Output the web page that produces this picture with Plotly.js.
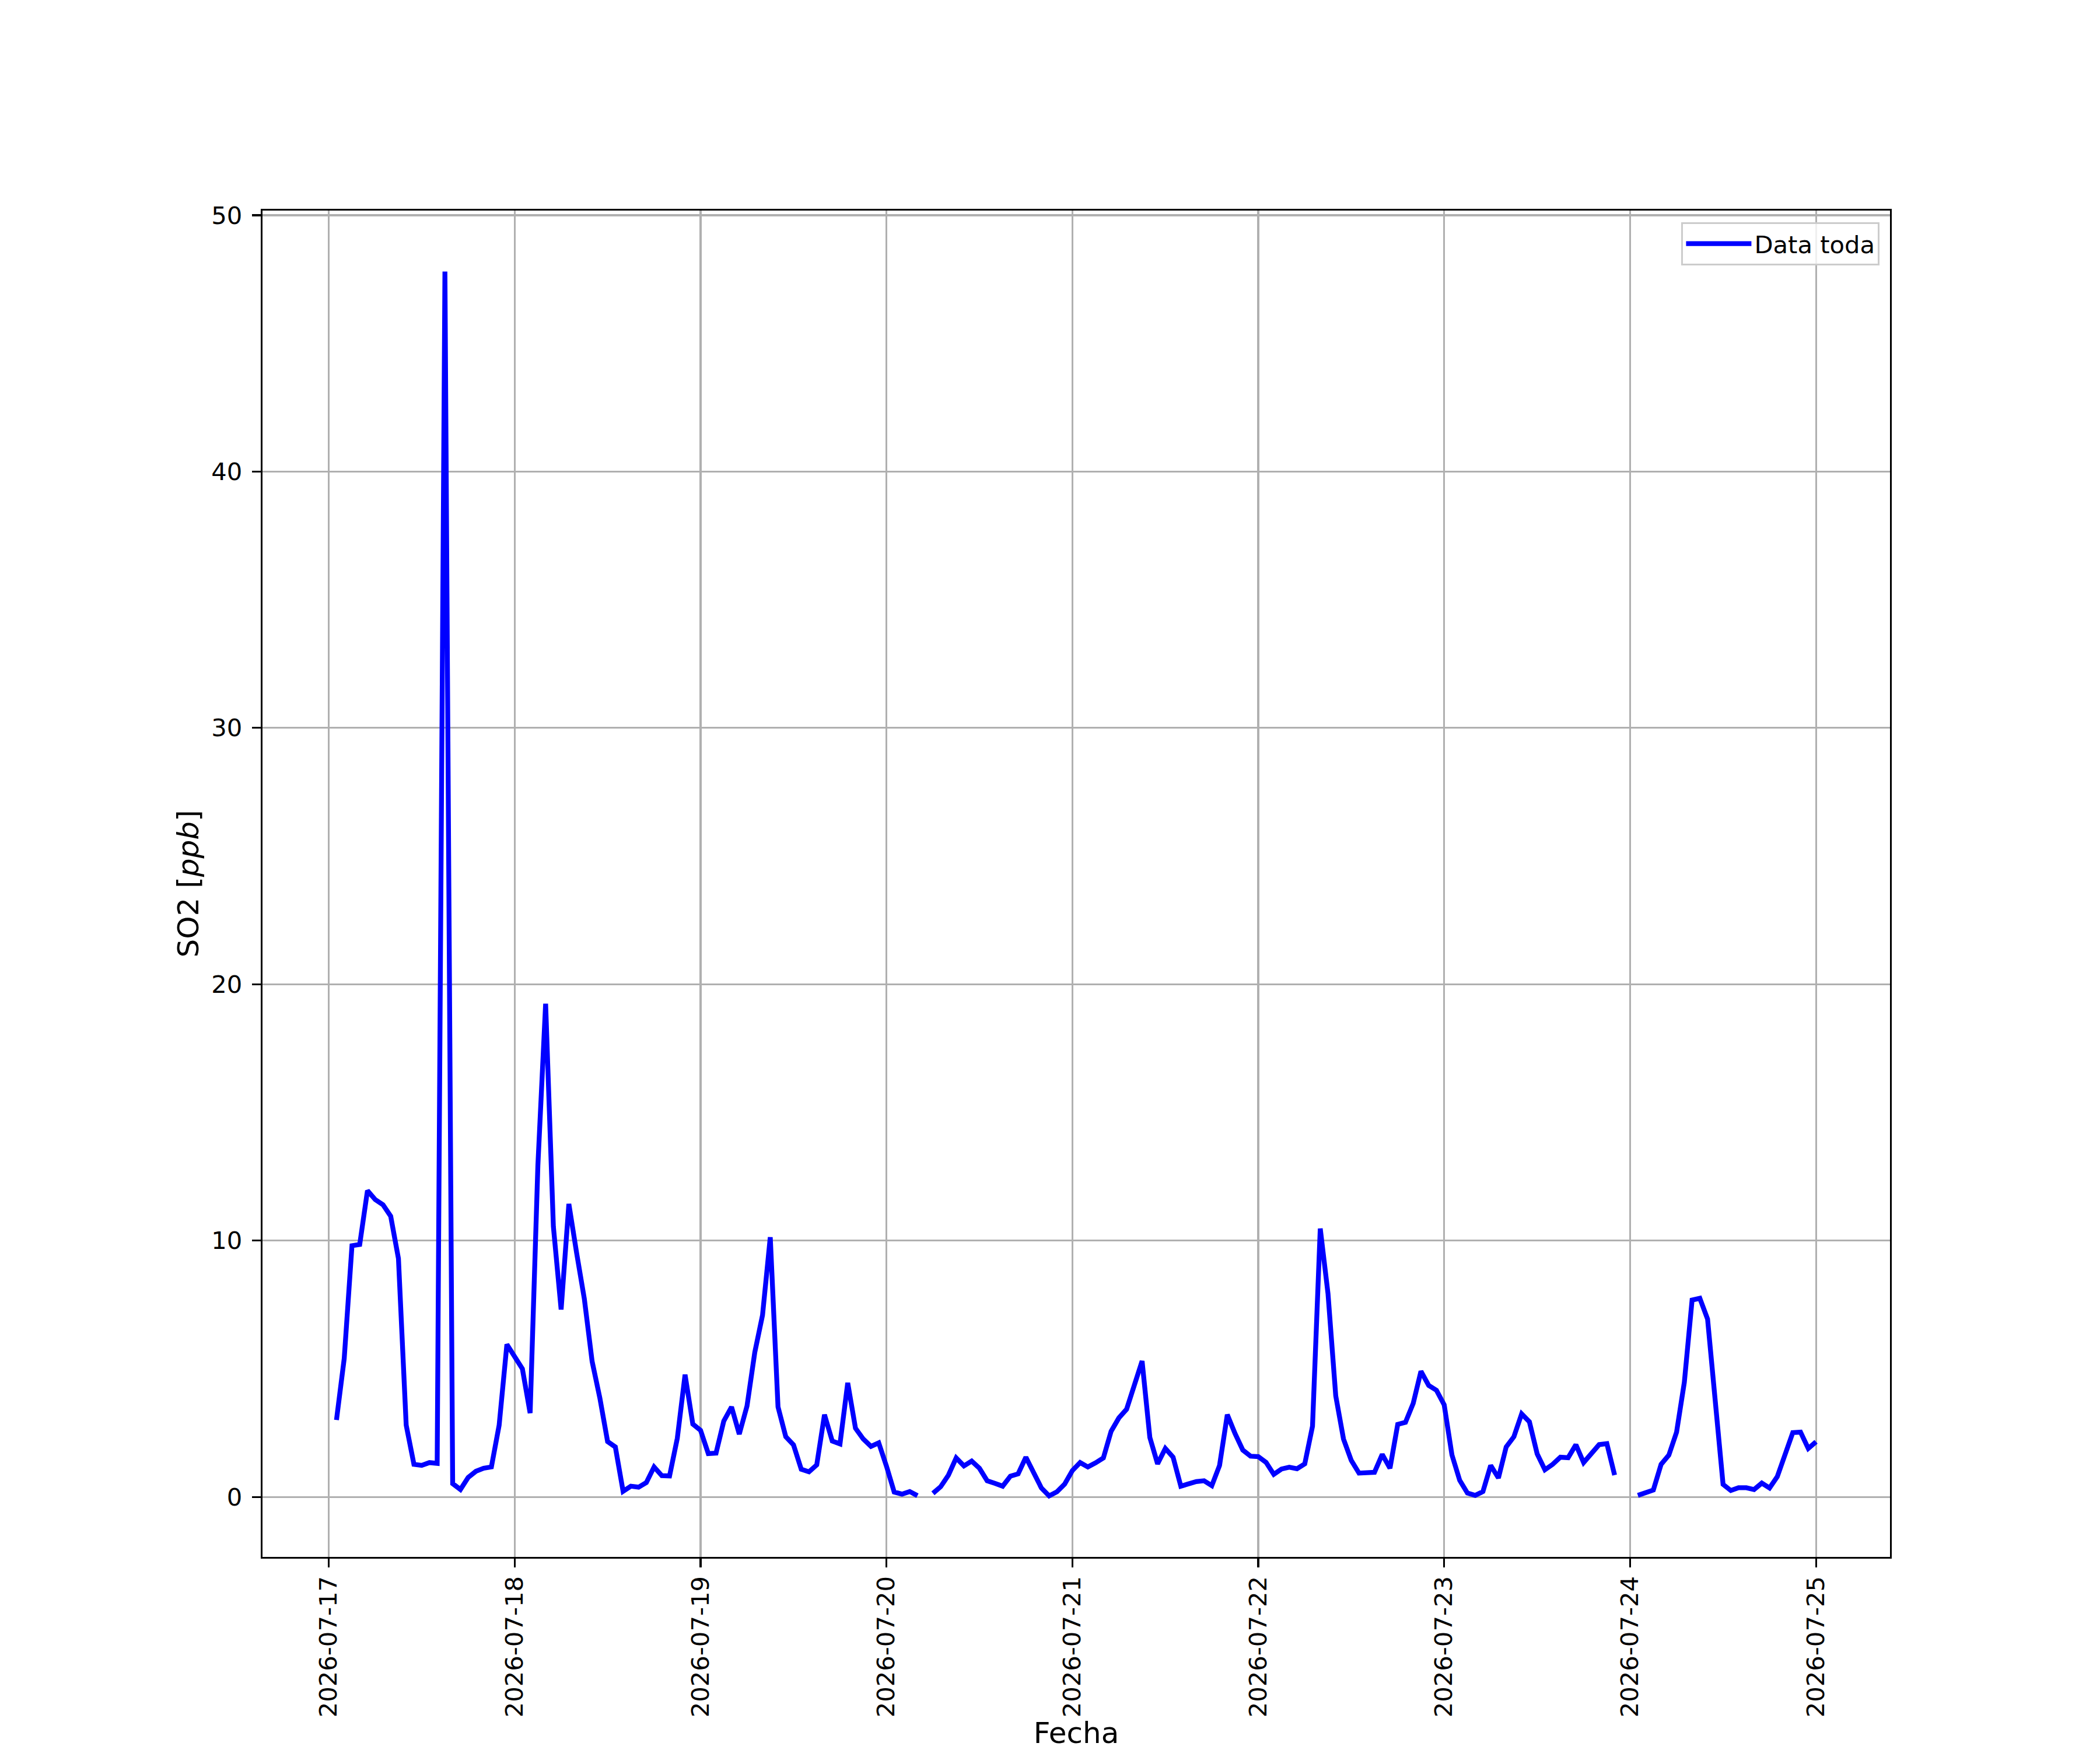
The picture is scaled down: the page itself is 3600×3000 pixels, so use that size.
<!DOCTYPE html>
<html>
<head>
<meta charset="utf-8">
<script src="https://cdn.plot.ly/plotly-3.0.1.min.js"></script>
<style>html,body{margin:0;padding:0;background:#fff;}</style>
</head>
<body>
<div id="chart" style="width:3600px;height:3000px;"></div>
<script>
// Hourly SO2 [ppb]; each day array starts at its first hour (see firstHour)
const days = ['2026-07-17','2026-07-18','2026-07-19','2026-07-20','2026-07-21','2026-07-22','2026-07-23','2026-07-24','2026-07-25'];
const firstHour = [1, 0, 0, 0, 0, 0, 0, 0, 0];

const so2_0717 = [3.0, 5.4, 9.8, 9.85, 11.95, 11.6, 11.4, 10.95, 9.3, 2.8, 1.27, 1.23, 1.34, 1.31, 47.8, 0.52, 0.29, 0.76, 1.0, 1.12, 1.17, 2.8, 5.95];
const so2_0718 = [5.5, 5.0, 3.27, 12.93, 19.24, 10.55, 7.31, 11.43, 9.52, 7.72, 5.29, 3.86, 2.16, 1.95, 0.22, 0.42, 0.38, 0.56, 1.17, 0.83, 0.82, 2.29, 4.77, 2.84];
const so2_0719 = [2.6, 1.69, 1.71, 2.96, 3.51, 2.45, 3.55, 5.64, 7.09, 10.13, 3.51, 2.35, 2.03, 1.08, 0.98, 1.25, 3.21, 2.18, 2.07, 4.45, 2.68, 2.26, 1.97, 2.11];
const so2_0720 = [1.2, 0.19, 0.11, 0.21, 0.05, null, 0.14, 0.40, 0.85, 1.52, 1.21, 1.40, 1.12, 0.63, 0.53, 0.42, 0.81, 0.90, 1.55, 0.95, 0.35, 0.04, 0.20, 0.50];
const so2_0721 = [1.03, 1.34, 1.17, 1.33, 1.52, 2.56, 3.08, 3.42, 4.36, 5.30, 2.32, 1.29, 1.89, 1.55, 0.42, 0.51, 0.60, 0.63, 0.44, 1.23, 3.21, 2.47, 1.83, 1.59];
const so2_0722 = [1.57, 1.35, 0.88, 1.09, 1.16, 1.10, 1.29, 2.76, 10.47, 7.93, 3.94, 2.26, 1.43, 0.93, 0.95, 0.96, 1.66, 1.12, 2.83, 2.91, 3.65, 4.90, 4.35, 4.16];
const so2_0723 = [3.59, 1.64, 0.65, 0.15, 0.06, 0.21, 1.23, 0.74, 1.95, 2.35, 3.24, 2.93, 1.68, 1.06, 1.27, 1.55, 1.53, 2.04, 1.34, 1.72, 2.04, 2.08, 0.85, null];
const so2_0724 = [null, 0.06, 0.16, 0.27, 1.27, 1.63, 2.53, 4.47, 7.68, 7.75, 6.94, 3.60, 0.49, 0.25, 0.36, 0.36, 0.29, 0.54, 0.35, 0.79, 1.64, 2.51, 2.53, 1.89];
const so2_0725 = [2.15];

const dayValues = [so2_0717, so2_0718, so2_0719, so2_0720, so2_0721, so2_0722, so2_0723, so2_0724, so2_0725];

const seriesName = 'Data toda';
const xTitle = 'Fecha';
const yTitle = 'SO2 [<i>ppb</i>]';

const x = [], y = [];
dayValues.forEach((vals, d) => {
  vals.forEach((v, i) => {
    const h = firstHour[d] + i;
    x.push(days[d] + ' ' + String(h).padStart(2, '0') + ':00');
    y.push(v);
  });
});

const FONT = 'DejaVu Sans, Arial, sans-serif';
const trace = {
  type: 'scatter', mode: 'lines', name: seriesName,
  x: x, y: y, connectgaps: false,
  line: {color: '#0000ff', width: 8.3}
};

const axisCommon = {
  showline: true, mirror: true, linecolor: '#000', linewidth: 3.3,
  showgrid: true, gridcolor: '#b0b0b0', gridwidth: 3.3,
  ticks: 'outside', ticklen: 15, tickwidth: 3.3, tickcolor: '#000',
  tickfont: {family: FONT, size: 41.7, color: '#000'},
  zeroline: false
};

const layout = {
  width: 3600, height: 3000,
  paper_bgcolor: '#fff', plot_bgcolor: '#fff',
  margin: {l: 450, r: 360, t: 361, b: 331},
  font: {family: FONT, color: '#000'},
  showlegend: true,
  legend: {
    x: 0.9937, y: 0.9913, xanchor: 'right', yanchor: 'top',
    bgcolor: 'rgba(255,255,255,0.8)', bordercolor: '#cccccc', borderwidth: 3,
    font: {family: FONT, size: 41.7, color: '#000'},
    itemwidth: 112
  },
  xaxis: Object.assign({}, axisCommon, {
    type: 'date',
    range: ['2026-07-16 15:27', '2026-07-25 09:33'],
    tick0: '2026-07-17', dtick: 86400000,
    tickformat: '%Y-%m-%d', tickangle: -90,
    ticklabelstandoff: -2,
    title: {text: xTitle, font: {family: FONT, size: 50, color: '#000'}, standoff: 48}
  }),
  yaxis: Object.assign({}, axisCommon, {
    range: [-2.34, 50.18],
    tick0: 0, dtick: 10,
    ticklabelstandoff: 8,
    title: {text: yTitle, font: {family: FONT, size: 50, color: '#000'}, standoff: 6}
  })
};

Plotly.newPlot('chart', [trace], layout, {staticPlot: true, displayModeBar: false});
</script>
</body>
</html>
